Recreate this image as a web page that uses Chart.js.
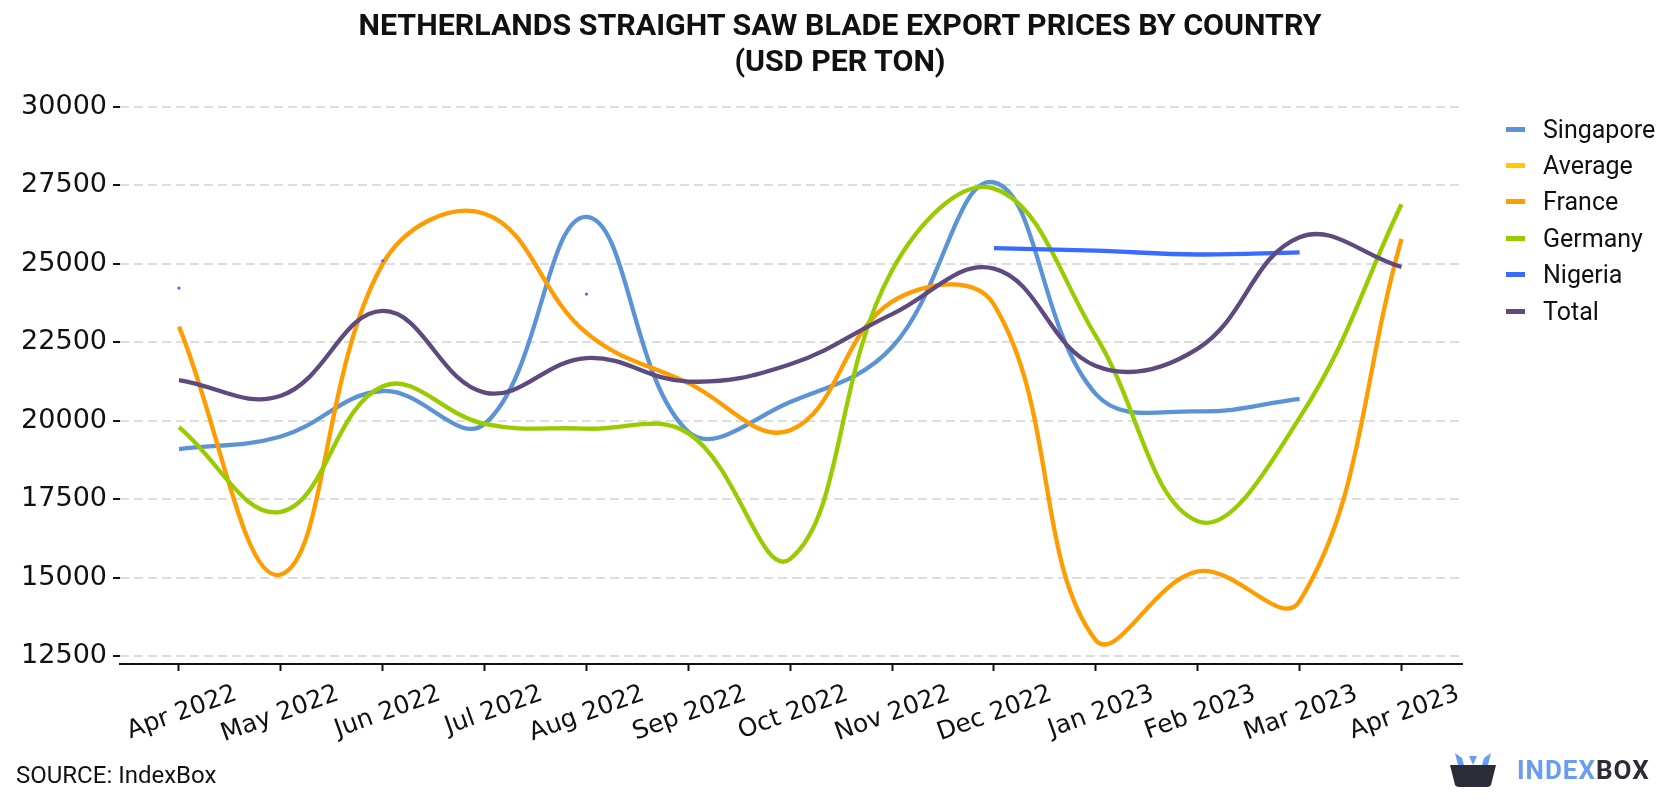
<!DOCTYPE html>
<html>
<head>
<meta charset="utf-8">
<script src="https://cdn.jsdelivr.net/npm/chart.js@4.4.1/dist/chart.umd.min.js"></script>
<style>
    body { margin: 0; background: #fff; }
    #wrap { position: relative; width: 1680px; height: 800px; overflow: hidden; font-family: Roboto, sans-serif; color: #111; }
    #chart { position: absolute; left: 0; top: 0; }
    #title { position: absolute; left: 0; top: 7px; width: 1680px; text-align: center; font-weight: bold; font-size: 30.4px; line-height: 36px; }
    #legend { position: absolute; left: 1506px; top: 111px; }
    .item { height: 36.4px; display: flex; align-items: center; font-size: 25px; }
    .swatch { width: 19px; height: 5px; margin-right: 18px; }
    #source { position: absolute; left: 16px; top: 760px; font-size: 24px; line-height: 30px; }
    #logo { position: absolute; left: 1449px; top: 752px; display: flex; align-items: center; }
    #logo .txt { font-weight: bold; font-size: 26px; letter-spacing: 1px; margin-left: 20px; }
</style>
</head>
<body>
<div id="wrap">
    <canvas id="chart" width="1680" height="800"></canvas>
    <div id="title">NETHERLANDS STRAIGHT SAW BLADE EXPORT PRICES BY COUNTRY<br>(USD PER TON)</div>
    <div id="legend"></div>
    <div id="source">SOURCE: IndexBox</div>
    <div id="logo">
        <svg width="48" height="36" viewBox="0 0 48 36">
            <path d="M6 1 L9 13 L15 13 L13 6 Z" fill="#6a9cf2"/>
            <path d="M42 1 L39 13 L33 13 L35 6 Z" fill="#6a9cf2"/>
            <path d="M20 4 L24 13 L28 4 Z" fill="#6a9cf2"/>
            <path d="M1 13 L47 13 L42 33 Q41 35 38 35 L10 35 Q7 35 6 33 Z" fill="#2c2c38"/>
        </svg>
        <span class="txt"><span style="color:#6a9cf2">INDEX</span><span style="color:#2c2c38">BOX</span></span>
    </div>
</div>
<script>
// Data
const months = ['Apr 2022', 'May 2022', 'Jun 2022', 'Jul 2022', 'Aug 2022', 'Sep 2022', 'Oct 2022',
    'Nov 2022', 'Dec 2022', 'Jan 2023', 'Feb 2023', 'Mar 2023', 'Apr 2023'];
const yTicks = [12500, 15000, 17500, 20000, 22500, 25000, 27500, 30000];

const singapore = [19100, 19500, 20950, 19900, 26500, 19650, 20600, 22350, 27600, 20850, 20300, 20700, null];
const average = [null, null, null, null, null, null, null, null, null, null, null, null, null];
const france = [23000, 15100, 25000, 26600, 22800, 21200, 19700, 23800, 23700, 13000, 15200, 14250, 25800];
const germany = [19800, 17100, 21100, 19900, 19750, 19600, 15600, 24800, 27400, 22700, 16800, 20100, 26900];
const nigeria = [24230, null, 25100, null, 24040, null, null, null, 25500, 25420, 25300, 25370, null];
const total = [21300, 20800, 23500, 20900, 22000, 21250, 21800, 23400, 24850, 21750, 22300, 25850, 24900];

const seriesNames = ['Singapore', 'Average', 'France', 'Germany', 'Nigeria', 'Total'];
const seriesData = [singapore, average, france, germany, nigeria, total];
const seriesColors = ['#5b93d6', '#ffcc00', '#ff9c00', '#99cc00', '#3a6bff', '#5e4a7e'];

// titik yang berdiri sendiri (tanpa tetangga) tetap digambar kecil
function isolated(ctx) {
    const d = ctx.dataset.data;
    const i = ctx.dataIndex;
    if (!d[i] || d[i].y === null) return 0;
    const prev = i > 0 ? d[i - 1].y : null;
    const next = i < d.length - 1 ? d[i + 1].y : null;
    return (prev === null && next === null) ? 1.6 : 0;
}

const datasets = seriesNames.map((name, idx) => ({
    label: name,
    data: seriesData[idx].map((v, i) => ({ x: i, y: v })),
    borderColor: seriesColors[idx],
    backgroundColor: seriesColors[idx],
    borderWidth: 4.3,
    tension: 0.4,
    pointRadius: isolated,
    pointBorderWidth: 0,
    pointHoverRadius: 0,
    order: seriesNames.length - idx,
    fill: false
}));

// Legend
const legend = document.getElementById('legend');
seriesNames.forEach((name, idx) => {
    const item = document.createElement('div');
    item.className = 'item';
    item.innerHTML = `<div class="swatch" style="background:${seriesColors[idx]}"></div>${name}`;
    legend.appendChild(item);
});

new Chart(document.getElementById('chart').getContext('2d'), {
    type: 'line',
    data: { datasets: datasets },
    options: {
        responsive: false,
        animation: false,
        devicePixelRatio: 1,
        layout: { padding: { left: 12, top: 107, right: 218, bottom: 0 } },
        plugins: {
            legend: { display: false },
            tooltip: { enabled: false },
            title: { display: false }
        },
        scales: {
            x: {
                type: 'linear',
                min: -0.579,
                max: 12.594,
                afterBuildTicks: axis => { axis.ticks = months.map((m, i) => ({ value: i })); },
                afterFit: scale => { scale.height = 136; },
                ticks: {
                    autoSkip: false,
                    minRotation: 20,
                    maxRotation: 20,
                    labelOffset: 57,
                    padding: 8,
                    color: '#111',
                    font: { family: 'DejaVu Sans', size: 25 },
                    callback: v => months[v]
                },
                grid: {
                    drawOnChartArea: false,
                    drawTicks: true,
                    tickLength: 7,
                    tickWidth: 2,
                    tickColor: '#111'
                },
                border: { display: true, color: '#111', width: 2 }
            },
            y: {
                min: 12250,
                max: 30000,
                afterBuildTicks: axis => { axis.ticks = yTicks.map(v => ({ value: v })); },
                afterFit: scale => { scale.width = 108; },
                ticks: {
                    padding: 6,
                    color: '#111',
                    font: { family: 'DejaVu Sans', size: 27 },
                    callback: v => String(v)
                },
                grid: {
                    color: '#dddddd',
                    lineWidth: 2,
                    drawTicks: true,
                    tickLength: 7,
                    tickWidth: 2,
                    tickColor: '#111'
                },
                border: { display: false, dash: [9, 5] }
            }
        }
    }
});
</script>
</body>
</html>
